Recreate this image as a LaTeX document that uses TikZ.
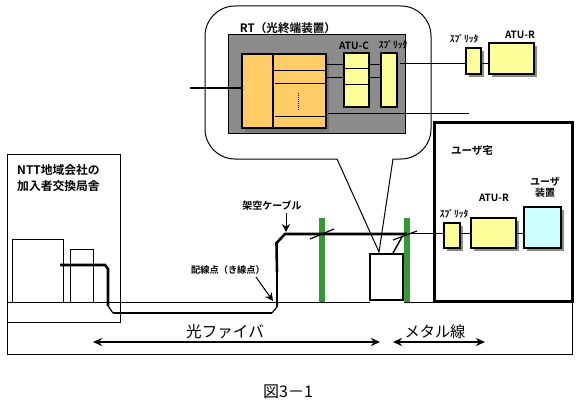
\documentclass[tikz,border=0pt]{standalone}
\usepackage{fontspec}
\setmainfont{Noto Sans CJK JP}[BoldFont={Noto Sans CJK JP Bold}]
\usetikzlibrary{arrows.meta,calc,shadows}
\definecolor{paleY}{HTML}{FFFF99}
\definecolor{paleO}{HTML}{FFCC66}
\definecolor{paleC}{HTML}{CCFFFF}
\definecolor{shade}{HTML}{8C8C8C}
\definecolor{pole}{HTML}{339933}
\tikzset{
  base/.style={inner sep=0pt,outer sep=0pt,anchor=north west},
  thinbox/.style={base,draw=black,line width=1pt},
  unit/.style={base,draw=black,line width=1.8pt,drop shadow={shadow xshift=3pt,shadow yshift=-3pt,fill=shade,opacity=1}},
  txt/.style={font=\bfseries\fontsize{#1}{#1}\selectfont,inner sep=0pt},
  wire/.style={line width=1pt},
  fiber/.style={line width=2.6pt},
  pointer/.style={-{Stealth[length=8pt,width=8pt]},line width=1pt},
  dbl/.style={{Stealth[length=9pt,width=8pt]}-{Stealth[length=9pt,width=8pt]},line width=1.7pt},
}
\begin{document}
\begin{tikzpicture}[x=1pt,y=-1pt]
\useasboundingbox (0,0) rectangle (579,404);
\fill[white] (0,0) rectangle (579,404);

% ground box and office
\node[thinbox,minimum width=565pt,minimum height=52pt] (ground) at (7,302) {};
\node[thinbox,minimum width=113.5pt,minimum height=168pt] (office) at (7,154) {};
\node[thinbox,minimum width=51pt,minimum height=63pt] (eqa) at (12,239) {};
\node[thinbox,minimum width=23pt,minimum height=53pt] (eqb) at (70,249) {};
\node[txt=11.8,align=left,anchor=north west] (officeT) at (17,164) {NTT地域会社の\\[4.5pt]加入者交換局舎};

% poles
\node[base,fill=pole,minimum width=6pt,minimum height=84pt] (poleA) at (319,218) {};
\node[base,fill=pole,minimum width=6pt,minimum height=84pt] (poleB) at (404,218) {};

% street cabinet
\fill[shade] (370,255) rectangle (404,303);
\node[base,draw=black,line width=2pt,fill=white,minimum width=33pt,minimum height=46pt] (cab) at (370,254) {};
\draw[shade,line width=1.6pt] (cab.north west) -- (cab.north east);

% balloon
\draw[line width=1pt,rounded corners=30pt] (205,80) -- (205,6) -- (431,6) -- (431,159) [sharp corners] -- (393,159) -- (379,252) -- (337,159) [rounded corners=30pt] -- (205,159) -- cycle;

% RT
\node[base,draw=black,line width=0.7pt,fill=shade,minimum width=177pt,minimum height=99pt] (rt) at (228,34) {};
\node[txt=11.6] (rtT) at (288,28) {RT（光終端装置）};
\fill[black!15!shade] (245,57) rectangle (329,132);
\node[base,draw=black,line width=1.8pt,fill=paleO,minimum width=84pt,minimum height=74pt] (term) at (242,54) {};
\draw[line width=1.2pt] (273,54) -- (273,128);
\draw[wire] (273,71) -- (term.east |- 0,71);
\draw[wire] (275,84) -- (327,84);
\draw[wire] (275,117) -- (term.east |- 0,117);
\draw[line width=1pt,densely dotted] (298,93) -- (298,111);

\node[unit,fill=paleY,minimum width=25pt,minimum height=54pt] (atuc) at (344,53) {};
\draw[wire] (atuc.west |- 0,69) -- (atuc.east |- 0,69);
\draw[wire] (atuc.west |- 0,85) -- (atuc.east |- 0,85);
\node[txt=10] (atucT) at (354,46) {ATU-C};
\node[unit,fill=paleY,minimum width=16pt,minimum height=54pt] (spa) at (381,53) {};
\node[txt=9.5] (spaT) at (393,45) {ｽﾌﾟﾘｯﾀ};

\node[unit,fill=paleY,minimum width=15pt,minimum height=26pt] (spb) at (466,48) {};
\node[txt=9.5] (spbT) at (464,39) {ｽﾌﾟﾘｯﾀ};
\node[unit,fill=paleY,minimum width=45pt,minimum height=31pt] (atub) at (489,43) {};
\node[txt=10] (atubT) at (520,35) {ATU-R};

\coordinate (feed) at (190,88);
\coordinate (stub) at (469,114);
\draw[fiber] (feed) -- (term.west |- feed);
\draw[wire] (term.east |- 0,65) -- (atuc.west |- 0,65);
\draw[wire] (term.east |- 0,78) -- (atuc.west |- 0,78);
\draw[wire] (atuc.east |- 0,65) -- (spa.west |- 0,65);
\draw[wire] (atuc.east |- 0,78) -- (spa.west |- 0,78);
\draw[wire] (400,64) -- (spb.west |- 0,64);
\draw[wire] (spb.east |- 0,64) -- (atub.west |- 0,64);
\draw[wire] (328,114) -- (stub);

% user house
\node[base,draw=black,line width=3pt,minimum width=138pt,minimum height=178pt] (house) at (434,123) {};
\node[txt=10.5] (houseT) at (472,150) {ユーザ宅};
\node[unit,fill=paleY,minimum width=16pt,minimum height=25pt] (spc) at (444,223) {};
\node[txt=9.5] (spcT) at (454,214) {ｽﾌﾟﾘｯﾀ};
\node[unit,fill=paleY,minimum width=45pt,minimum height=30pt] (atud) at (471,218) {};
\node[txt=10] (atudT) at (494,198) {ATU-R};
\node[unit,fill=paleC,minimum width=37pt,minimum height=41pt] (dev) at (524,207) {};
\node[txt=10,align=center] (devT) at (545,187.5) {ユーザ\\[1pt]装置};
\draw[wire] (spc.east |- 0,233) -- (atud.west |- 0,233);
\draw[wire] (atud.east |- 0,233) -- (dev.west |- 0,233);
\draw[wire] (poleB.east |- 0,233) -- (spc.west |- 0,233);

% fibre run
\coordinate (f0) at (60,265);
\coordinate (f1) at (105,265);
\coordinate (f2) at (108,269);
\coordinate (f3) at (108,306);
\coordinate (f4) at (113,313);
\coordinate (f5) at (272,313);
\coordinate (f6) at (277,307);
\coordinate (f7) at (276.5,243);
\coordinate (f8) at (285,234);
\coordinate (f9) at (poleB.center |- 0,234);
\draw[fiber] (f0) -- (f1) -- (f2) -- (f3);
\draw[line width=1.2pt] (f3) -- (f4);
\draw[fiber] (f4) -- (f5);
\draw[line width=1.2pt] (f5) -- (f6);
\draw[line width=1.4pt] (f6) -- (277,272);
\draw[fiber] (277,272) -- (f7) -- (f8) -- (f9);

% pole ties
\draw[line width=1.2pt] (310,239) -- (334,229);
\draw[line width=1.2pt] (393,240) -- (417,231);
\draw[line width=1.4pt] (393,253) -- (402,237);

% labels on the aerial cable
\node[txt=10] (aerial) at (272,206) {架空ケーブル};
\draw[pointer] (286,213) -- (286,232);
\node[txt=9.2] (dist) at (228,270) {配線点（き線点）};
\coordinate (distEnd) at (273,301);
\draw[pointer] (256,277) -- (distEnd);

% extents
\node[font=\fontsize{15.6}{15.6}\selectfont,inner sep=0pt] (optT) at (225,332) {光ファイバ};
\node[font=\fontsize{15.2}{15.2}\selectfont,inner sep=0pt] (metT) at (435,332) {メタル線};
\coordinate (optL) at (93,342);
\coordinate (optR) at (380,342);
\coordinate (metL) at (393,342);
\coordinate (metR) at (485,342);
\draw[dbl] (optL) -- (optR);
\draw[dbl] (metL) -- (metR);

\node[font=\fontsize{16}{16}\selectfont,inner sep=0pt] (cap) at (288,392) {図3－1};
\end{tikzpicture}
\end{document}
